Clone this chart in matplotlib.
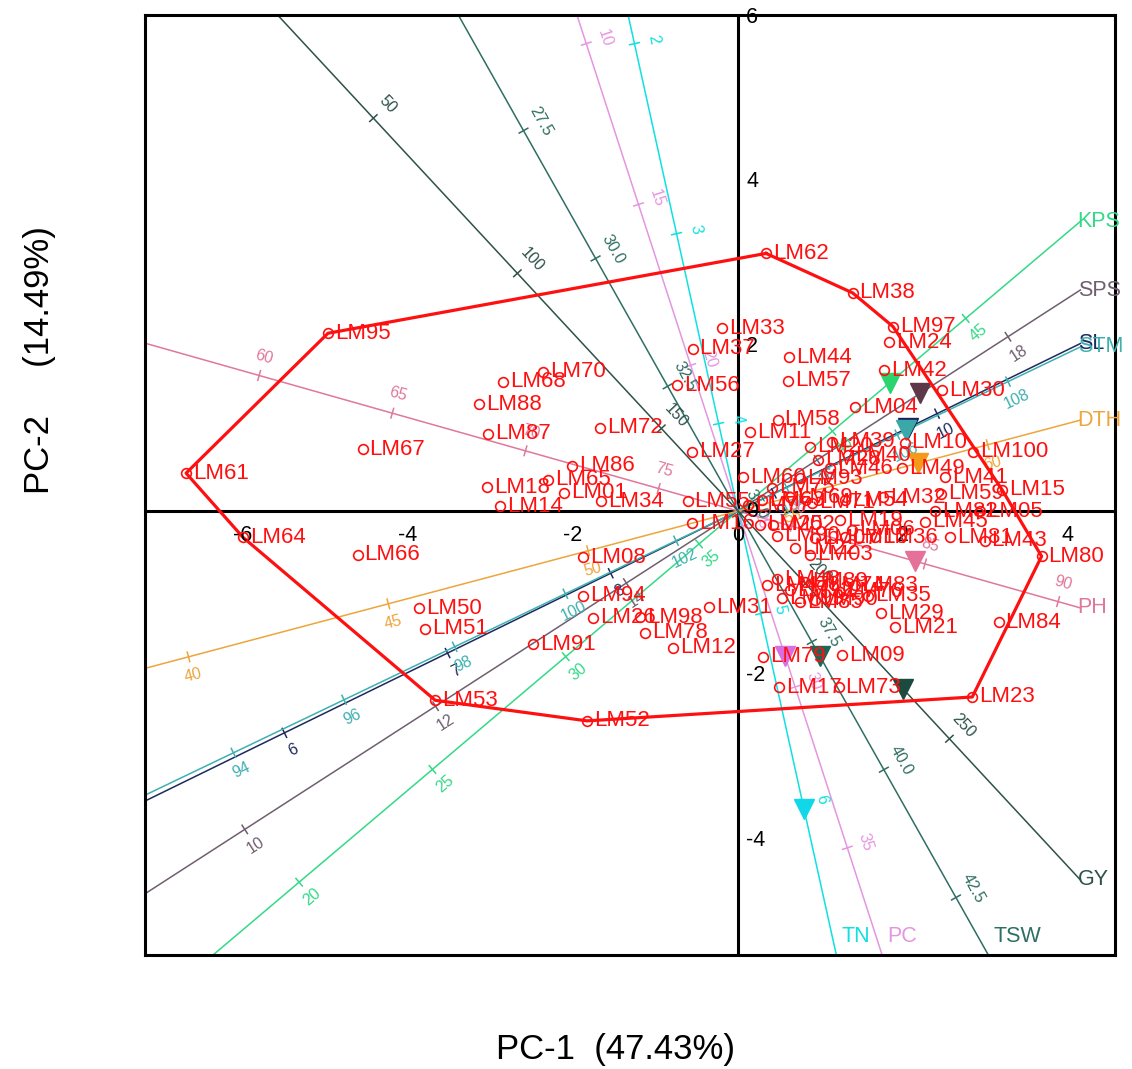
import numpy as np
import matplotlib.pyplot as plt

plt.rcParams['font.family'] = ['Liberation Sans', 'DejaVu Sans']

# genotype scores on PC-1 / PC-2
genotypes = ['LM62', 'LM38', 'LM97', 'LM24', 'LM42', 'LM30', 'LM04', 'LM44', 'LM57', 'LM33',
             'LM37', 'LM56', 'LM58', 'LM11', 'LM27', 'LM60', 'LM70', 'LM68', 'LM88', 'LM87',
             'LM72', 'LM86', 'LM18', 'LM65', 'LM01', 'LM14', 'LM34', 'LM55', 'LM16', 'LM95',
             'LM67', 'LM61', 'LM64', 'LM66', 'LM50', 'LM51', 'LM53', 'LM08', 'LM94', 'LM26',
             'LM98', 'LM78', 'LM91', 'LM12', 'LM31', 'LM52', 'LM23', 'LM84', 'LM80', 'LM29',
             'LM21', 'LM09', 'LM79', 'LM17', 'LM73', 'LM15', 'LM10', 'LM100', 'LM49', 'LM41',
             'LM59', 'LM32', 'LM54', 'LM82', 'LM05', 'LM45', 'LM81', 'LM43', 'LM36', 'LM39',
             'LM28', 'LM93', 'LM02', 'LM96', 'LM06', 'LM03', 'LM47', 'LM89', 'LM85', 'LM35',
             'LM20', 'LM40', 'LM46', 'LM63', 'LM69', 'LM71', 'LM75', 'LM77', 'LM07', 'LM13',
             'LM19', 'LM22', 'LM25', 'LM48', 'LM74', 'LM76', 'LM83', 'LM90', 'LM92', 'LM99']
pc1 = [0.34, 1.39, 1.88, 1.83, 1.77, 2.47, 1.42, 0.62, 0.61, -0.19,
       -0.55, -0.74, 0.48, 0.15, -0.56, 0.06, -2.36, -2.85, -3.14, -3.03,
       -1.67, -2.01, -3.04, -2.30, -2.11, -2.88, -1.66, -0.61, -0.56, -4.97,
       -4.55, -6.69, -6.00, -4.61, -3.87, -3.79, -3.67, -1.88, -1.88, -1.76,
       -1.19, -1.13, -2.48, -0.79, -0.35, -1.83, 2.84, 3.16, 3.68, 1.73,
       1.90, 1.26, 0.30, 0.50, 1.22, 3.20, 2.02, 2.85, 1.99, 2.51,
       2.46, 1.76, 1.30, 2.39, 2.93, 2.27, 2.57, 2.99, 1.66, 1.14,
       0.97, 0.75, 0.42, 0.47, 1.38, 0.87, 0.35, 0.81, 0.75, 1.58,
       0.87, 1.33, 1.12, 0.29, 0.63, 0.90, 0.41, 0.12, 0.93, 1.30,
       1.24, 0.69, 0.27, 0.47, 1.02, 1.24, 1.42, 0.93, 0.63, 0.53]
pc2 = [3.13, 2.65, 2.24, 2.05, 1.71, 1.47, 1.26, 1.87, 1.58, 2.22,
       1.97, 1.53, 1.11, 0.96, 0.72, 0.41, 1.69, 1.57, 1.30, 0.94,
       1.01, 0.55, 0.29, 0.38, 0.22, 0.06, 0.12, 0.12, -0.15, 2.16,
       0.75, 0.46, -0.32, -0.53, -1.18, -1.43, -2.30, -0.56, -1.03, -1.30,
       -1.29, -1.48, -1.62, -1.66, -1.17, -2.55, -2.26, -1.35, -0.55, -1.24,
       -1.41, -1.75, -1.77, -2.14, -2.14, 0.26, 0.83, 0.72, 0.52, 0.41,
       0.21, 0.17, 0.13, 0.00, 0.00, -0.13, -0.32, -0.36, -0.32, 0.84,
       0.62, 0.40, -0.17, -0.30, -0.23, -0.53, -0.90, -0.86, -1.11, -1.03,
       0.78, 0.68, 0.52, 0.13, 0.17, 0.10, 0.28, 0.07, -0.33, -0.32,
       -0.11, -0.45, -0.17, -0.83, -0.90, -0.98, -0.90, -1.08, -0.96, -1.06]

# genotypes on the polygon, in drawing order
hull = ['LM62', 'LM38', 'LM97', 'LM15', 'LM80', 'LM23', 'LM52', 'LM53', 'LM64', 'LM61', 'LM95']

# trait vectors and their calibrated axes
traits = ['KPS', 'SPS', 'SL', 'STM', 'DTH', 'PH', 'TN', 'PC', 'TSW', 'GY']
trait_x = [1.84, 2.21, 2.06, 2.04, 2.18, 2.15, 0.80, 0.57, 0.99, 2.00]
trait_y = [1.56, 1.43, 1.01, 0.98, 0.58, -0.61, -3.62, -1.76, -1.76, -2.16]
trait_mid = [36.46, 15.17, 8.78, 103.12, 53.75, 77.98, 4.46, 24.53, 34.94, 176.6]
trait_rate = [2.36, 0.726, 0.454, 1.344, 1.995, 2.98, 0.423, 2.434, 1.403, 19.46]
trait_ticks = [[20, 25, 30, 35, 40, 45],
               [10, 12, 14, 16, 18],
               [6, 7, 8, 9, 10],
               [94, 96, 98, 100, 102, 104, 106, 108],
               [40, 45, 50, 55, 60],
               [60, 65, 70, 75, 80, 85, 90],
               [2, 3, 4, 5, 6],
               [10, 15, 20, 25, 30, 35],
               [27.5, 30.0, 32.5, 35.0, 37.5, 40.0, 42.5],
               [50, 100, 150, 200, 250]]
trait_fmt = ['{:.0f}'] * 8 + ['{:.1f}', '{:.0f}']
line_colors = ['#34d987', '#6f5f6f', '#1e2a5e', '#3fb0b0', '#eda53c',
               '#e0789c', '#10e0e0', '#e596e0', '#2f6e62', '#2d5249']
head_colors = ['#2bd46e', '#5c3848', '#16215a', '#3aa8a8', '#f39a1a',
               '#e5709a', '#10d8e8', '#d86ee0', '#1f6656', '#1d4a3e']

xmin, xmax = -7.188, 4.570
ymin, ymax = -5.395, 6.027
xcut = 4.15  # axes stop short of the right frame to leave room for names

fig = plt.figure(figsize=(11.32, 10.69), dpi=100)
ax = fig.add_axes([145 / 1132, 1 - 955 / 1069, 970 / 1132, 940 / 1069])
ax.set_xlim(xmin, xmax)
ax.set_ylim(ymin, ymax)
ax.set_xticks([])
ax.set_yticks([])
for s in ax.spines.values():
    s.set_linewidth(2.2)

ax.axhline(0, color='black', lw=2.2, zorder=1)
ax.axvline(0, color='black', lw=2.2, zorder=1)

# axis numbers sit on the centre lines
for v in [-6, -4, -2, 0, 2, 4]:
    ax.text(v, -0.30, str(v), ha='center', va='center', fontsize=15.5, zorder=6)
for v in [-4, -2, 0, 2, 4, 6]:
    ax.text(0.10, v, str(v), ha='left', va='center', fontsize=15.5, zorder=6)


def extent(ux, uy, sign):
    ts = []
    if ux * sign > 0:
        ts.append(xcut / (ux * sign))
    elif ux * sign < 0:
        ts.append(xmin / (ux * sign))
    if uy * sign > 0:
        ts.append(ymax / (uy * sign))
    elif uy * sign < 0:
        ts.append(ymin / (uy * sign))
    return min(ts)


for i, name in enumerate(traits):
    vx, vy = trait_x[i], trait_y[i]
    L = np.hypot(vx, vy)
    ux, uy = vx / L, vy / L
    tp = extent(ux, uy, 1)
    tn = extent(ux, uy, -1)
    c = line_colors[i]
    ax.plot([-tn * ux, tp * ux], [-tn * uy, tp * uy], color=c, lw=1.1, zorder=2)
    ang = np.degrees(np.arctan2(uy, ux))
    ax.plot(vx, vy, marker='v', ms=14, color=head_colors[i],
            mec=head_colors[i], zorder=4, ls='none')
    # normal pointing to the right
    nx, ny = -uy, ux
    if nx < 0:
        nx, ny = -nx, -ny
    for v in trait_ticks[i]:
        t = (v - trait_mid[i]) / trait_rate[i]
        px, py = t * ux, t * uy
        ax.plot([px - 0.06 * nx, px + 0.06 * nx], [py - 0.06 * ny, py + 0.06 * ny],
                color=c, lw=1.1, zorder=2)
        ax.annotate(trait_fmt[i].format(v), (px, py), xytext=(14 * nx, 14 * ny),
                    textcoords='offset points', ha='center', va='center',
                    rotation=ang if abs(ang) <= 90 else ang - 180,
                    fontsize=11.5, color=c, zorder=3)
    ex, ey = tp * ux, tp * uy
    if abs(ex - xcut) < 1e-6:
        ax.annotate(name, (ex, ey), xytext=(-2, 0), textcoords='offset points',
                    ha='left', va='center', fontsize=15.5, color=c, zorder=5,
                    annotation_clip=False)
    else:
        ax.annotate(name, (ex, ey), xytext=(4, 6), textcoords='offset points',
                    ha='left', va='bottom', fontsize=15.5, color=c, zorder=5)

# polygon joining the outermost genotypes
pos = {g: (x, y) for g, x, y in zip(genotypes, pc1, pc2)}
hx = [pos[g][0] for g in hull] + [pos[hull[0]][0]]
hy = [pos[g][1] for g in hull] + [pos[hull[0]][1]]
ax.plot(hx, hy, color='#ff1010', lw=2.3, zorder=5)

ax.plot(pc1, pc2, 'o', ms=7, mfc='none', mec='#ff1010', mew=1.2, zorder=6)
for g, x, y in zip(genotypes, pc1, pc2):
    ax.annotate(g, (x, y), xytext=(5, 0), textcoords='offset points',
                ha='left', va='center', fontsize=16, color='#ff1010', zorder=6)

fig.text(616 / 1132, 1 - 1050 / 1069, 'PC-1  (47.43%)', ha='center', va='center', fontsize=25)
fig.text(40 / 1132, 1 - 360 / 1069, 'PC-2     (14.49%)', ha='center', va='center',
         rotation=90, fontsize=25)

fig.savefig('out.png', dpi=100)
